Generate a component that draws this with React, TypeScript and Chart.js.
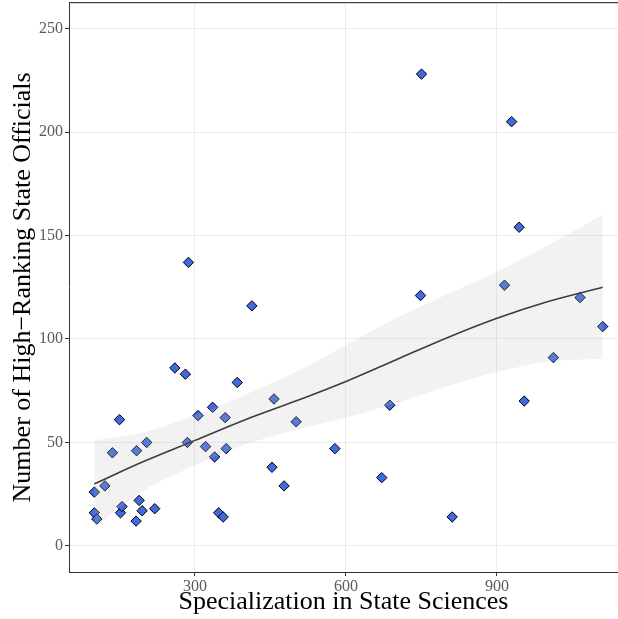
import React, { useEffect, useRef } from "react";
import { Chart, registerables } from "chart.js";

Chart.register(...registerables);

// Observations: specialization score vs. number of officials
const specialization = [
  100, 121, 136, 150, 184, 204, 100, 105, 152, 155, 183, 189, 195, 220, 260,
  281, 285, 306, 321, 335, 339, 360, 362, 347, 356, 384, 413, 453, 457, 477,
  501, 578, 287, 750, 929, 944, 915, 748, 1065, 1110, 1012, 954, 687, 671, 811,
];
const officials = [
  26, 29, 45, 61, 46, 50, 16, 13, 16, 19, 12, 22, 17, 18, 86,
  83, 50, 63, 48, 67, 43, 62, 47, 16, 14, 79, 116, 38, 71, 29,
  60, 47, 137, 228, 205, 154, 126, 121, 120, 106, 91, 70, 68, 33, 14,
];

// Smoothed trend with its confidence band
const smoothX = [100, 200, 300, 400, 500, 600, 700, 800, 900, 1000, 1110];
const smoothFit = [30, 41, 51, 61, 70, 79.5, 90, 100.5, 110, 118, 125];
const smoothLower = [9, 27, 39, 49, 56, 62, 69, 77, 84, 89, 90.5];
const smoothUpper = [51, 55, 63, 73, 84, 97, 110, 121.5, 132.5, 145, 160];

const xTicks = [300, 600, 900];
const yTicks = [0, 50, 100, 150, 200, 250];

const serif = "'Liberation Serif', 'DejaVu Serif', serif";

const topBorder = {
  id: "topBorder",
  afterDraw(chart: any) {
    const { ctx, chartArea } = chart;
    ctx.save();
    ctx.strokeStyle = "#444";
    ctx.lineWidth = 1.2;
    ctx.beginPath();
    ctx.moveTo(chartArea.left, chartArea.top);
    ctx.lineTo(chartArea.right, chartArea.top);
    ctx.stroke();
    ctx.restore();
  },
};

// Drop the label-overflow padding Chart.js reserves around each axis
const noScalePadding = (s: any) => {
  s.paddingTop = 0;
  s.paddingBottom = 0;
  s.paddingLeft = 0;
  s.paddingRight = 0;
};

export default function App() {
  const ref = useRef<HTMLCanvasElement>(null);

  useEffect(() => {
    if (!ref.current) return;
    const pts = specialization.map((x, i) => ({ x, y: officials[i] }));
    const line = (vals: number[]) => smoothX.map((x, i) => ({ x, y: vals[i] }));

    const chart = new Chart(ref.current, {
      type: "scatter",
      data: {
        datasets: [
          {
            type: "scatter",
            data: pts,
            pointStyle: "rectRot",
            pointRadius: 5.2,
            pointBackgroundColor: "#4169E1",
            pointBorderColor: "#000",
            pointBorderWidth: 1,
            order: 4,
          },
          {
            type: "line",
            data: line(smoothLower),
            borderWidth: 0,
            pointRadius: 0,
            fill: false,
            cubicInterpolationMode: "monotone",
            order: 3,
          },
          {
            type: "line",
            data: line(smoothUpper),
            borderWidth: 0,
            pointRadius: 0,
            fill: 1,
            backgroundColor: "rgba(190,190,190,0.2)",
            cubicInterpolationMode: "monotone",
            order: 2,
          },
          {
            type: "line",
            data: line(smoothFit),
            borderColor: "#3d3d3d",
            borderWidth: 1.6,
            pointRadius: 0,
            fill: false,
            cubicInterpolationMode: "monotone",
            order: 1,
          },
        ],
      } as any,
      plugins: [topBorder],
      options: {
        responsive: false,
        animation: false,
        layout: {
          autoPadding: false,
          padding: { top: 2.7, right: 0, left: 0, bottom: 0 },
        },
        plugins: {
          legend: { display: false },
          tooltip: { enabled: false },
        },
        scales: {
          x: {
            type: "linear",
            min: 49.7,
            max: 1140.4,
            afterBuildTicks: (s: any) => {
              s.ticks = xTicks.map((v) => ({ value: v }));
            },
            afterFit: (s: any) => {
              s.height = 47;
              noScalePadding(s);
            },
            grid: {
              color: "#EBEBEB",
              lineWidth: 1,
              tickColor: "#333",
              tickLength: 4,
            },
            border: { display: true, color: "#333", width: 1 },
            ticks: {
              color: "#5a5a5a",
              font: { family: serif, size: 16 },
              padding: 1,
              maxRotation: 0,
            },
            title: {
              display: true,
              text: "Specialization in State Sciences",
              color: "#000",
              font: { family: serif, size: 26 },
              padding: { top: 0, bottom: 1 },
            },
          },
          y: {
            type: "linear",
            min: -12.6,
            max: 262.5,
            afterBuildTicks: (s: any) => {
              s.ticks = yTicks.map((v) => ({ value: v }));
            },
            afterFit: (s: any) => {
              s.width = 69;
              noScalePadding(s);
            },
            grid: {
              color: "#EBEBEB",
              lineWidth: 1,
              tickColor: "#333",
              tickLength: 4,
            },
            border: { display: true, color: "#333", width: 1 },
            ticks: {
              color: "#5a5a5a",
              font: { family: serif, size: 16 },
              padding: 2,
            },
            title: {
              display: true,
              text: "Number of High\u2212Ranking State Officials",
              color: "#000",
              font: { family: serif, size: 26 },
              padding: { top: 7.5, bottom: 0 },
            },
          },
        },
      } as any,
    });
    return () => chart.destroy();
  }, []);

  return (
    <div style={{ position: "absolute", left: 0, top: 0, width: 618, height: 619, background: "#fff" }}>
      <canvas ref={ref} width={618} height={619} />
    </div>
  );
}
